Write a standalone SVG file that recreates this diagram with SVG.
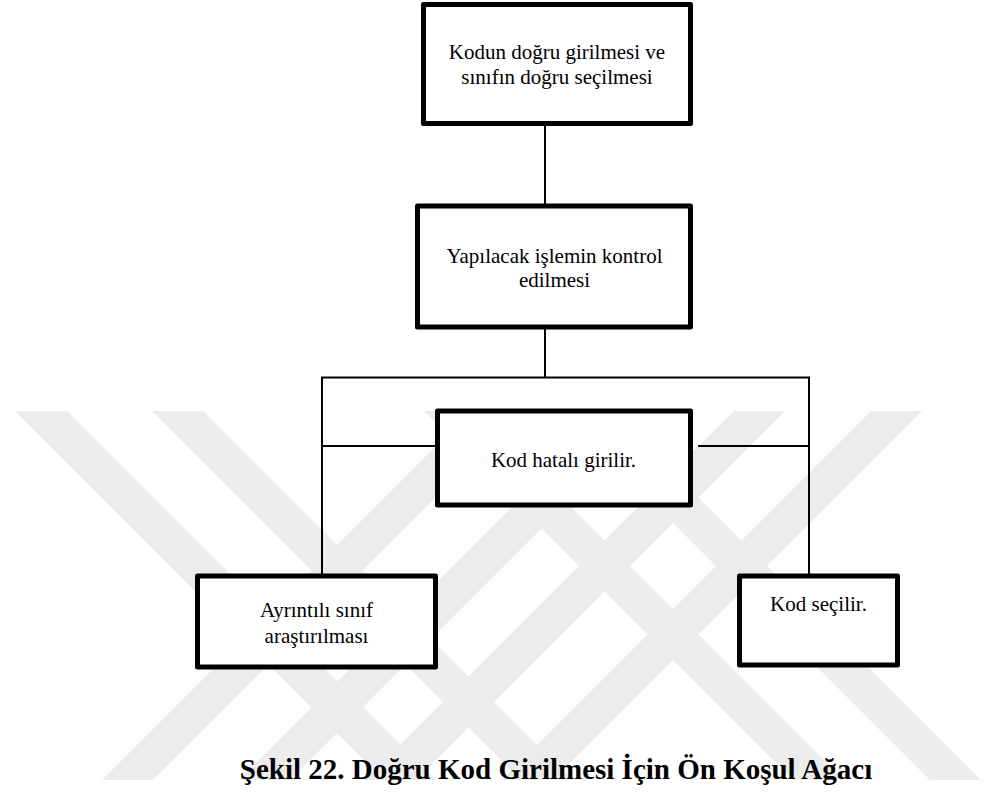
<svg xmlns="http://www.w3.org/2000/svg" width="987" height="792" viewBox="0 0 987 792">
  <style>
    .box { fill: #ffffff; stroke: #000000; stroke-width: 5; stroke-linejoin: round; }
    .wire { fill: none; stroke: #000000; stroke-width: 2; }
    .label { font-family: "Liberation Serif", "Times New Roman", serif; font-size: 21px; fill: #000000; text-anchor: middle; }
    .caption { font-family: "Liberation Serif", "Times New Roman", serif; font-size: 29px; font-weight: bold; fill: #000000; text-anchor: middle; }
    .mark { fill: #ececec; }
  </style>

  <rect width="987" height="792" fill="#ffffff"/>

  <!-- background emblem: diagonal stripes forming two crossed lattices -->
  <g id="emblem" class="mark">
    <polygon points="15,411 67,411 436,780 384,780"/>
    <polygon points="152,411 203,411 572,780 521,780"/>
    <polygon points="424,411 475,411 844,780 793,780"/>
    <polygon points="561,411 612,411 981,780 930,780"/>
    <polygon points="471,411 522,411 153,780 102,780"/>
    <polygon points="608,411 659,411 290,780 239,780"/>
    <polygon points="734,411 785,411 416,780 365,780"/>
    <polygon points="871,411 922,411 553,780 502,780"/>
  </g>

  <!-- connectors -->
  <g id="connectors" class="wire">
    <line x1="545" y1="126" x2="545" y2="204"/>
    <line x1="545" y1="329" x2="545" y2="378"/>
    <polyline points="322,574 322,377.5 809,377.5 809,574"/>
    <line x1="322" y1="446" x2="435" y2="446"/>
    <line x1="698" y1="446" x2="810" y2="446"/>
  </g>

  <g id="node-kodun">
    <rect class="box" x="423.5" y="4.5" width="267" height="119"/>
    <text class="label" x="557" y="59">Kodun doğru girilmesi ve</text>
    <text class="label" x="557" y="83.5">sınıfın doğru seçilmesi</text>
  </g>

  <g id="node-yapilacak">
    <rect class="box" x="417.5" y="206" width="273" height="121"/>
    <text class="label" x="554.5" y="263">Yapılacak işlemin kontrol</text>
    <text class="label" x="554.5" y="287">edilmesi</text>
  </g>

  <g id="node-hatali">
    <rect class="box" x="437.5" y="411" width="253" height="94"/>
    <text class="label" x="563.5" y="466.5">Kod hatalı girilir.</text>
  </g>

  <g id="node-ayrintili">
    <rect class="box" x="197.5" y="576" width="238" height="91"/>
    <text class="label" x="316.5" y="617">Ayrıntılı sınıf</text>
    <text class="label" x="316.5" y="643">araştırılması</text>
  </g>

  <g id="node-secilir">
    <rect class="box" x="739.5" y="576" width="158" height="89"/>
    <text class="label" x="818.5" y="610.5">Kod seçilir.</text>
  </g>

  <text id="caption" class="caption" x="556" y="779">Şekil 22. Doğru Kod Girilmesi İçin Ön Koşul Ağacı</text>
</svg>
